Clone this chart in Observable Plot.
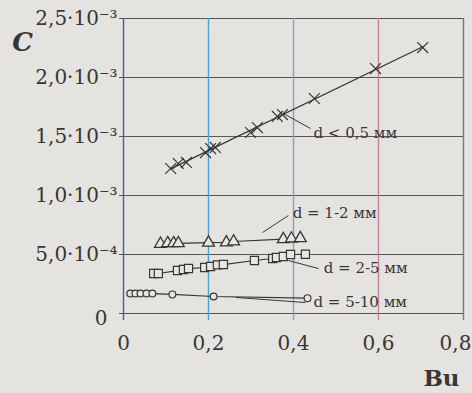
<!DOCTYPE html>
<html><head><meta charset="utf-8">
<script src="https://cdn.jsdelivr.net/npm/d3@7"></script>
<script src="https://cdn.jsdelivr.net/npm/@observablehq/plot@0.6"></script>
<style>
html,body{margin:0;padding:0;background:#e5e3df;}
#chart{width:472px;height:393px;}
</style></head><body><div id="chart"></div>
<script>
// axes
const xTicks = [0, 0.2, 0.4, 0.6, 0.8];
const xTickLabels = ["0", "0,2", "0,4", "0,6", "0,8"];
const yTicks = [0, 5e-4, 1e-3, 1.5e-3, 2e-3, 2.5e-3];
const yTickLabels = ["0", "5,0·10⁻⁴", "1,0·10⁻³", "1,5·10⁻³", "2,0·10⁻³", "2,5·10⁻³"];

// series: d < 0,5 мм (crosses)
const buA = [0.111, 0.129, 0.148, 0.193, 0.205, 0.216, 0.299, 0.315, 0.362, 0.374, 0.449, 0.593, 0.704];
const cA  = [1.229e-3, 1.271e-3, 1.280e-3, 1.364e-3, 1.398e-3, 1.407e-3, 1.534e-3, 1.576e-3, 1.670e-3, 1.686e-3, 1.822e-3, 2.076e-3, 2.254e-3];
// d = 1-2 мм (triangles)
const buB = [0.087, 0.104, 0.118, 0.129, 0.200, 0.242, 0.259, 0.376, 0.395, 0.416];
const cB  = [5.90e-4, 5.95e-4, 5.95e-4, 5.95e-4, 6.00e-4, 6.02e-4, 6.10e-4, 6.30e-4, 6.35e-4, 6.38e-4];
// d = 2-5 мм (squares)
const buC = [0.071, 0.082, 0.127, 0.141, 0.153, 0.191, 0.205, 0.221, 0.235, 0.308, 0.351, 0.360, 0.376, 0.393, 0.428];
const cC  = [3.39e-4, 3.39e-4, 3.64e-4, 3.73e-4, 3.81e-4, 3.90e-4, 3.98e-4, 4.12e-4, 4.15e-4, 4.49e-4, 4.66e-4, 4.75e-4, 4.83e-4, 5.00e-4, 5.02e-4];
// d = 5-10 мм (circles)
const buD = [0.016, 0.028, 0.040, 0.054, 0.068, 0.115, 0.212, 0.433];
const cD  = [1.69e-4, 1.69e-4, 1.69e-4, 1.69e-4, 1.69e-4, 1.62e-4, 1.44e-4, 1.30e-4];

// annotation labels: leader start (ax, ay), leader end (bx, by), text position (tx, ty)
const annLabels = ["d < 0,5 мм", "d = 1-2 мм", "d = 2-5 мм", "d = 5-10 мм"];
const annAx = [0.376, 0.327, 0.388, 0.264];
const annAy = [1.695e-3, 6.86e-4, 4.49e-4, 1.36e-4];
const annBx = [0.440, 0.388, 0.459, 0.428];
const annBy = [1.568e-3, 8.30e-4, 3.81e-4, 0.93e-4];
const annTx = [0.447, 0.398, 0.471, 0.447];
const annTy = [1.525e-3, 8.47e-4, 3.81e-4, 0.93e-4];

const toPts = (xs, ys) => xs.map((x, i) => ({x, y: ys[i]}));
const A = toPts(buA, cA), B = toPts(buB, cB), Cq = toPts(buC, cC), D = toPts(buD, cD);
const ann = annLabels.map((label, i) => ({label, ax: annAx[i], ay: annAy[i], bx: annBx[i], by: annBy[i], tx: annTx[i], ty: annTy[i]}));

const ink = "#383535";
const paper = "#e8e6e2";
const vColors = ["#4a5aa8", "#4aa4d4", "#8a9ec0", "#c9809c", "#7a7878"];
const fmtX = d => xTickLabels[xTicks.indexOf(d)];
const fmtY = d => yTickLabels[yTicks.indexOf(d)];

const chart = Plot.plot({
  width: 472, height: 393,
  marginLeft: 123, marginRight: 9, marginTop: 18, marginBottom: 80,
  style: {background: "transparent", fontFamily: "DejaVu Serif", color: ink},
  x: {domain: [0, 0.8]},
  y: {domain: [0, 0.0025]},
  color: {type: "identity"},
  marks: [
    Plot.ruleY(yTicks, {stroke: "#575555", strokeWidth: 1.2, insetLeft: -4}),
    Plot.ruleX(xTicks, {stroke: (d, i) => vColors[i], strokeWidth: 1.4, insetBottom: -7}),
    Plot.axisY(yTicks.slice(1), {tickFormat: fmtY, tickSize: 0, tickPadding: 6, fontSize: 20, label: null, fill: ink}),
    Plot.axisY([0], {tickFormat: fmtY, tickSize: 0, tickPadding: 16, dy: 5, fontSize: 20, label: null, fill: ink}),
    Plot.axisX(xTicks.slice(0, 4), {tickFormat: fmtX, tickSize: 0, tickPadding: 22, fontSize: 20, label: null, fill: ink}),
    Plot.axisX([0.8], {tickFormat: fmtX, tickSize: 0, tickPadding: 22, dx: -8, fontSize: 20, label: null, fill: ink}),
    Plot.text(["C"], {text: d => d, frameAnchor: "top-left", textAnchor: "middle", lineAnchor: "middle", dx: -101, dy: 24, fontSize: 26, fontWeight: "bold", fontStyle: "italic", fill: ink}),
    Plot.text(["Bu"], {text: d => d, frameAnchor: "bottom-right", textAnchor: "middle", lineAnchor: "middle", dx: -22, dy: 65, fontSize: 23, fontWeight: "bold", fill: ink}),
    Plot.linearRegressionY(A, {x: "x", y: "y", stroke: ink, strokeWidth: 1.3, ci: 0}),
    Plot.line(B, {x: "x", y: "y", stroke: ink, strokeWidth: 1.2}),
    Plot.line(Cq, {x: "x", y: "y", stroke: ink, strokeWidth: 1.2}),
    Plot.line(D, {x: "x", y: "y", stroke: ink, strokeWidth: 1.2}),
    Plot.link(ann, {x1: "ax", y1: "ay", x2: "bx", y2: "by", stroke: ink, strokeWidth: 1}),
    Plot.dot(A, {x: "x", y: "y", symbol: "times", r: 5, stroke: ink, strokeWidth: 1.2}),
    Plot.dot(B, {x: "x", y: "y", symbol: "triangle", r: 4.4, fill: paper, stroke: ink, strokeWidth: 1.3}),
    Plot.dot(Cq, {x: "x", y: "y", symbol: "square", r: 4.6, fill: paper, stroke: ink, strokeWidth: 1.2}),
    Plot.dot(D, {x: "x", y: "y", symbol: "circle", r: 3.4, fill: paper, stroke: ink, strokeWidth: 1.2}),
    Plot.text(ann, {x: "tx", y: "ty", text: "label", textAnchor: "start", lineAnchor: "middle", fontSize: 15, fill: ink})
  ]
});
document.getElementById("chart").appendChild(chart);
</script>
</body></html>
